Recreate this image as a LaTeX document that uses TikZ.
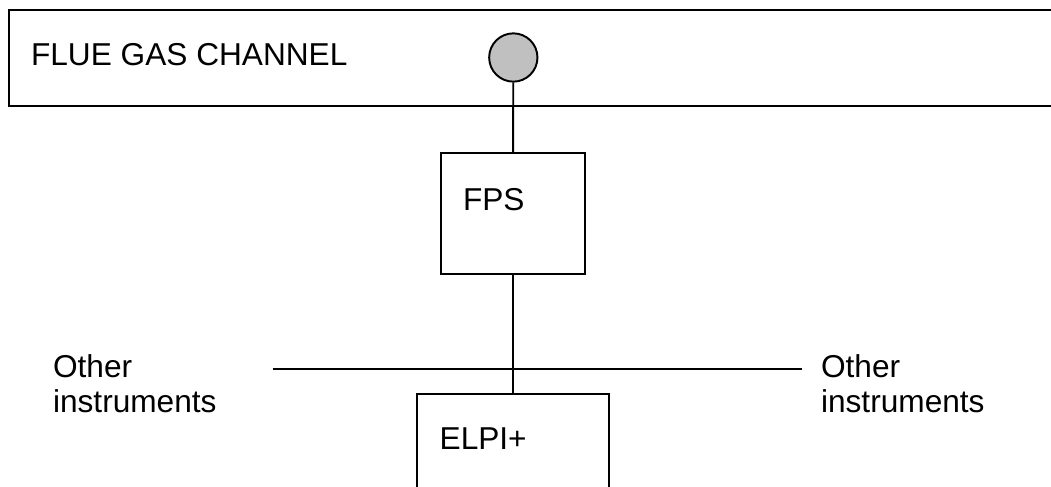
\documentclass[tikz,border=0pt]{standalone}
\usepackage{fontspec}
\setmainfont{Liberation Sans}
\usepackage{tikz}
\usetikzlibrary{positioning}
\definecolor{probegray}{RGB}{192,192,192}

\begin{document}
\begin{tikzpicture}[
    unit/.style={draw, line width=1.1pt, inner sep=0pt},
    tag/.style={inner sep=0pt, align=left,
        font=\fontsize{18}{19.6}\selectfont},
    link/.style={line width=1.1pt}
]
\clip (0,0) rectangle (21.02,9.72);
% channel and probe
\node[unit, minimum width=21.8cm, minimum height=1.914cm, anchor=north west]
    (channel) at (0.166,9.534) {};
\node[tag, anchor=base west] (chanlabel) at (0.614,8.4) {FLUE GAS CHANNEL};
\node[unit, circle, fill=probegray, minimum size=0.966cm] (probe) at (10.266,8.57) {};
% instruments
\node[unit, minimum width=2.892cm, minimum height=2.414cm] (fps) at (10.26,5.446) {};
\node[tag, anchor=base west] (fpslabel) at (9.254,5.52) {FPS};
\node[unit, minimum width=3.852cm, minimum height=3cm, anchor=north] (elpi) at (10.26,1.866) {};
\node[tag, anchor=base west] (elpilabel) at (8.786,0.734) {ELPI+};
% sampling line
\coordinate (buswest) at (5.454,2.334);
\coordinate (buseast) at (16.034,2.334);
\node[tag, anchor=base west] (otherwest) at (1.054,1.474) {Other\\instruments};
\node[tag, anchor=base west] (othereast) at (16.414,1.474) {Other\\instruments};
\draw[link] (probe) -- (fps); \draw[link] (fps) -- (elpi);
\draw[link] (buswest) -- (buseast);
\end{tikzpicture}
\end{document}
